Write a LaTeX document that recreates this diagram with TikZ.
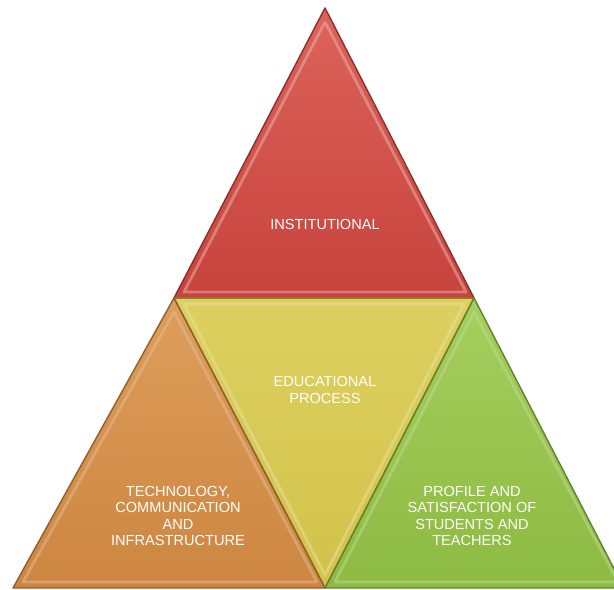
\documentclass[tikz,border=0pt]{standalone}
\usepackage{fontspec}
\setmainfont{Liberation Sans}
\usetikzlibrary{calc}
\definecolor{instRed}{HTML}{C7433C}
\definecolor{instRedL}{HTML}{DC635B}
\definecolor{eduYel}{HTML}{D2C24A}
\definecolor{eduYelL}{HTML}{DDD060}
\definecolor{techOr}{HTML}{CC8640}
\definecolor{techOrL}{HTML}{DE9E5C}
\definecolor{profGr}{HTML}{8DBA42}
\definecolor{profGrL}{HTML}{A6CF5E}

\tikzset{
	label/.style = {text = white, align = center, font = \fontsize{8.3}{9.4}\selectfont},
	edge/.style = {line width = 0.8pt, line join = round},
	bevel/.style = {line width = 1.6pt, opacity = 0.5, line join = round}
}

\begin{document}
\begin{tikzpicture}[x = 0.02cm, y = -0.02cm]
		\useasboundingbox (0, 0) rectangle (614, 590);
		%%%%%%%%%%%%%
		\coordinate (top) at (325, 8);
		\coordinate (ml) at (174, 298);
		\coordinate (mr) at (474, 298);
		\coordinate (bl) at (13, 588);
		\coordinate (bm) at (325, 588);
		\coordinate (br) at (624, 588);
		%%%%%%%%%%%%%
		\begin{scope}
		\clip (0, 0) rectangle (614, 590);
		\shade [top color = instRedL, bottom color = instRed] (top) -- (ml) -- (mr) -- cycle;
		\shade [top color = eduYelL, bottom color = eduYel] (ml) -- (mr) -- (bm) -- cycle;
		\shade [top color = techOrL, bottom color = techOr] (ml) -- (bl) -- (bm) -- cycle;
		\shade [top color = profGrL, bottom color = profGr] (mr) -- (bm) -- (br) -- cycle;
		%%%%%%%%%%%%%
		\draw [bevel, white!60!instRed] (325, 22) -- (184, 292) -- (466, 292) -- cycle;
		\draw [bevel, white!50!eduYel] (184, 304) -- (464, 304) -- (325, 575) -- cycle;
		\draw [bevel, white!45!techOr] (174, 312) -- (23, 582) -- (317, 582) -- cycle;
		\draw [bevel, white!45!profGr] (474, 312) -- (335, 582) -- (618, 582) -- cycle;
		%%%%%%%%%%%%%
		\draw [edge, instRed!70!black] (top) -- (ml) -- (mr) -- cycle;
		\draw [edge, eduYel!70!black] (ml) -- (mr) -- (bm) -- cycle;
		\draw [edge, techOr!70!black] (ml) -- (bl) -- (bm) -- cycle;
		\draw [edge, profGr!70!black] (mr) -- (bm) -- (br) -- cycle;
		\end{scope}
		%%%%%%%%%%%%%
		\node [label] (inst) at (325, 224) {INSTITUTIONAL};
		\node [label] (edu) at (325, 390) {EDUCATIONAL\\PROCESS};
		\node [label] (tech) at (178, 516) {TECHNOLOGY,\\COMMUNICATION\\AND\\INFRASTRUCTURE};
		\node [label] (prof) at (472, 516) {PROFILE AND\\SATISFACTION OF\\STUDENTS AND\\TEACHERS};
\end{tikzpicture}
\end{document}
